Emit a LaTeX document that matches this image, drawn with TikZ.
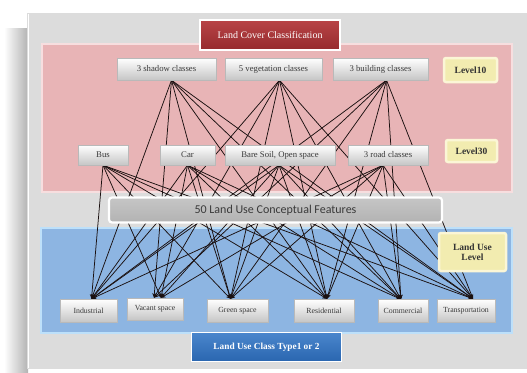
\documentclass[tikz,border=0pt]{standalone}
\usepackage{fontspec}
\setmainfont{Liberation Serif}
\newfontfamily\featfont{Carlito}
\usetikzlibrary{arrows.meta}
\pgfdeclarelayer{regionlayer}
\pgfdeclarelayer{linelayer}
\pgfsetlayers{regionlayer,linelayer,main}
\definecolor{panelgray}{HTML}{DCDCDC}
\definecolor{pinkfill}{HTML}{E8B4B6}
\definecolor{pinkedge}{HTML}{F7DEDF}
\definecolor{bluefill}{HTML}{8DB5E2}
\definecolor{blueedge}{HTML}{BDE0FA}
\definecolor{titlered}{HTML}{962A2D}
\definecolor{titlered2}{HTML}{B84447}
\definecolor{lvlyellow}{HTML}{F2ECB0}
\definecolor{lvledge}{HTML}{FBF6D6}
\definecolor{darkblue}{HTML}{2A66B0}
\definecolor{darkblue2}{HTML}{4A86CC}
\definecolor{linecol}{HTML}{1A1010}
\definecolor{textgray}{HTML}{3A3A3A}
\tikzset{
  region/.style={line width=2.5pt},
  classbox/.style={rectangle, top color=white, bottom color=gray!45, draw=gray!55, line width=0.4pt,
    text=textgray, font=\fontsize{8.7}{9}\selectfont, inner sep=1pt, align=center},
  usebox/.style={classbox, font=\fontsize{7.8}{9}\selectfont},
  lvlbox/.style={rectangle, rounded corners=2pt, fill=lvlyellow, draw=lvledge, line width=2.5pt,
    text=black!80, font=\bfseries\fontsize{9.5}{11}\selectfont, align=center, inner sep=1pt},
  titlebox/.style={rectangle, top color=titlered2, bottom color=titlered, draw=white, line width=1.5pt,
    text=white, font=\fontsize{10}{12}\selectfont, inner sep=1pt},
  featbox/.style={rectangle, rounded corners=3pt, top color=gray!45, bottom color=gray!60, draw=white, line width=2.2pt,
    text=textgray, font=\featfont\fontsize{12}{14}\selectfont, inner sep=1pt},
  typebox/.style={rectangle, top color=darkblue2, bottom color=darkblue, draw=white, line width=1.8pt,
    text=white, font=\bfseries\fontsize{9.3}{11}\selectfont, inner sep=1pt},
  link/.style={draw=linecol, line width=0.75pt, -{Stealth[length=4.5pt,width=4pt]}}
}
\begin{document}
\begin{tikzpicture}[x=1pt,y=-1pt]
\useasboundingbox (0,0) rectangle (527,372);
\begin{pgfonlayer}{regionlayer}
% left shadow of panel
\shade[left color=white, right color=gray!60] (4,28) rectangle (28,372);
% panel
\fill[panelgray] (27,13) rectangle (527,369);
\draw[white, line width=1pt] (28,14) -- (28,368);
% regions
\draw[region, draw=pinkedge, fill=pinkfill] (42,44) rectangle (512,192);
\draw[region, draw=blueedge, fill=bluefill] (41,228) rectangle (512,333);
\end{pgfonlayer}

% nodes
\node[titlebox, minimum width=140, minimum height=30] (title) at (270,35) {Land Cover Classification};

\node[classbox, minimum width=99, minimum height=22] (shadow) at (166.5,69) {3 shadow classes};
\node[classbox, minimum width=97, minimum height=22] (veg) at (273.5,69) {5 vegetation classes};
\node[classbox, minimum width=95, minimum height=22] (bld) at (380.5,69) {3 building classes};
\node[lvlbox, minimum width=53, minimum height=24] (l10) at (470.5,70) {Level10};

\node[classbox, minimum width=50, minimum height=20] (bus) at (103,155) {Bus};
\node[classbox, minimum width=55, minimum height=20] (car) at (187.5,155) {Car};
\node[classbox, minimum width=110, minimum height=20] (bare) at (280,155) {Bare Soil, Open space};
\node[classbox, minimum width=80, minimum height=20] (road) at (388,155) {3 road classes};
\node[lvlbox, minimum width=51, minimum height=22] (l30) at (471.5,151) {Level30};

\node[featbox, minimum width=333, minimum height=25] (feat) at (275.5,210) {50 Land Use Conceptual Features};
\node[lvlbox, minimum width=67, minimum height=38] (lul) at (472.5,252) {Land Use\\[-1pt]Level};

\node[usebox, minimum width=57, minimum height=23] (ind) at (88.5,310.5) {Industrial};
\node[usebox, minimum width=56, minimum height=22] (vac) at (155,309) {Vacant space};
\node[usebox, minimum width=61, minimum height=23] (grn) at (237.5,310.5) {Green space};
\node[usebox, minimum width=60, minimum height=23] (res) at (324,310.5) {Residential};
\node[usebox, minimum width=50, minimum height=23] (com) at (403,311) {Commercial};
\node[usebox, minimum width=58, minimum height=23] (trn) at (466,310.5) {Transportation};

\node[typebox, minimum width=150, minimum height=29] (type) at (266.5,347) {Land Use Class Type1 or 2};

% connectors (behind boxes)
\begin{pgfonlayer}{linelayer}
\foreach \s/\d in {shadow/5, veg/6, bld/6}{
  \draw[link] ([xshift=\d]\s.south) -- ([xshift=3]ind.north);
  \draw[link] ([xshift=\d]\s.south) -- ([xshift=-1]vac.north);
  \draw[link] ([xshift=\d]\s.south) -- ([xshift=-7]grn.north);
  \draw[link] ([xshift=\d]\s.south) -- ([xshift=3]res.north);
  \draw[link] ([xshift=\d]\s.south) -- ([xshift=-2]com.north);
  \draw[link] ([xshift=\d]\s.south) -- ([xshift=7]trn.north);
}
\foreach \s/\d in {bus/0, car/0, bare/-1, road/-5}{
  \draw[link] ([xshift=\d]\s.south) -- ([xshift=3]ind.north);
  \draw[link] ([xshift=\d]\s.south) -- ([xshift=6]vac.north);
  \draw[link] ([xshift=\d]\s.south) -- ([xshift=-7]grn.north);
  \draw[link] ([xshift=\d]\s.south) -- ([xshift=3]res.north);
  \draw[link] ([xshift=\d]\s.south) -- ([xshift=-2]com.north);
  \draw[link] ([xshift=\d]\s.south) -- ([xshift=7]trn.north);
}
\end{pgfonlayer}
\end{tikzpicture}
\end{document}
